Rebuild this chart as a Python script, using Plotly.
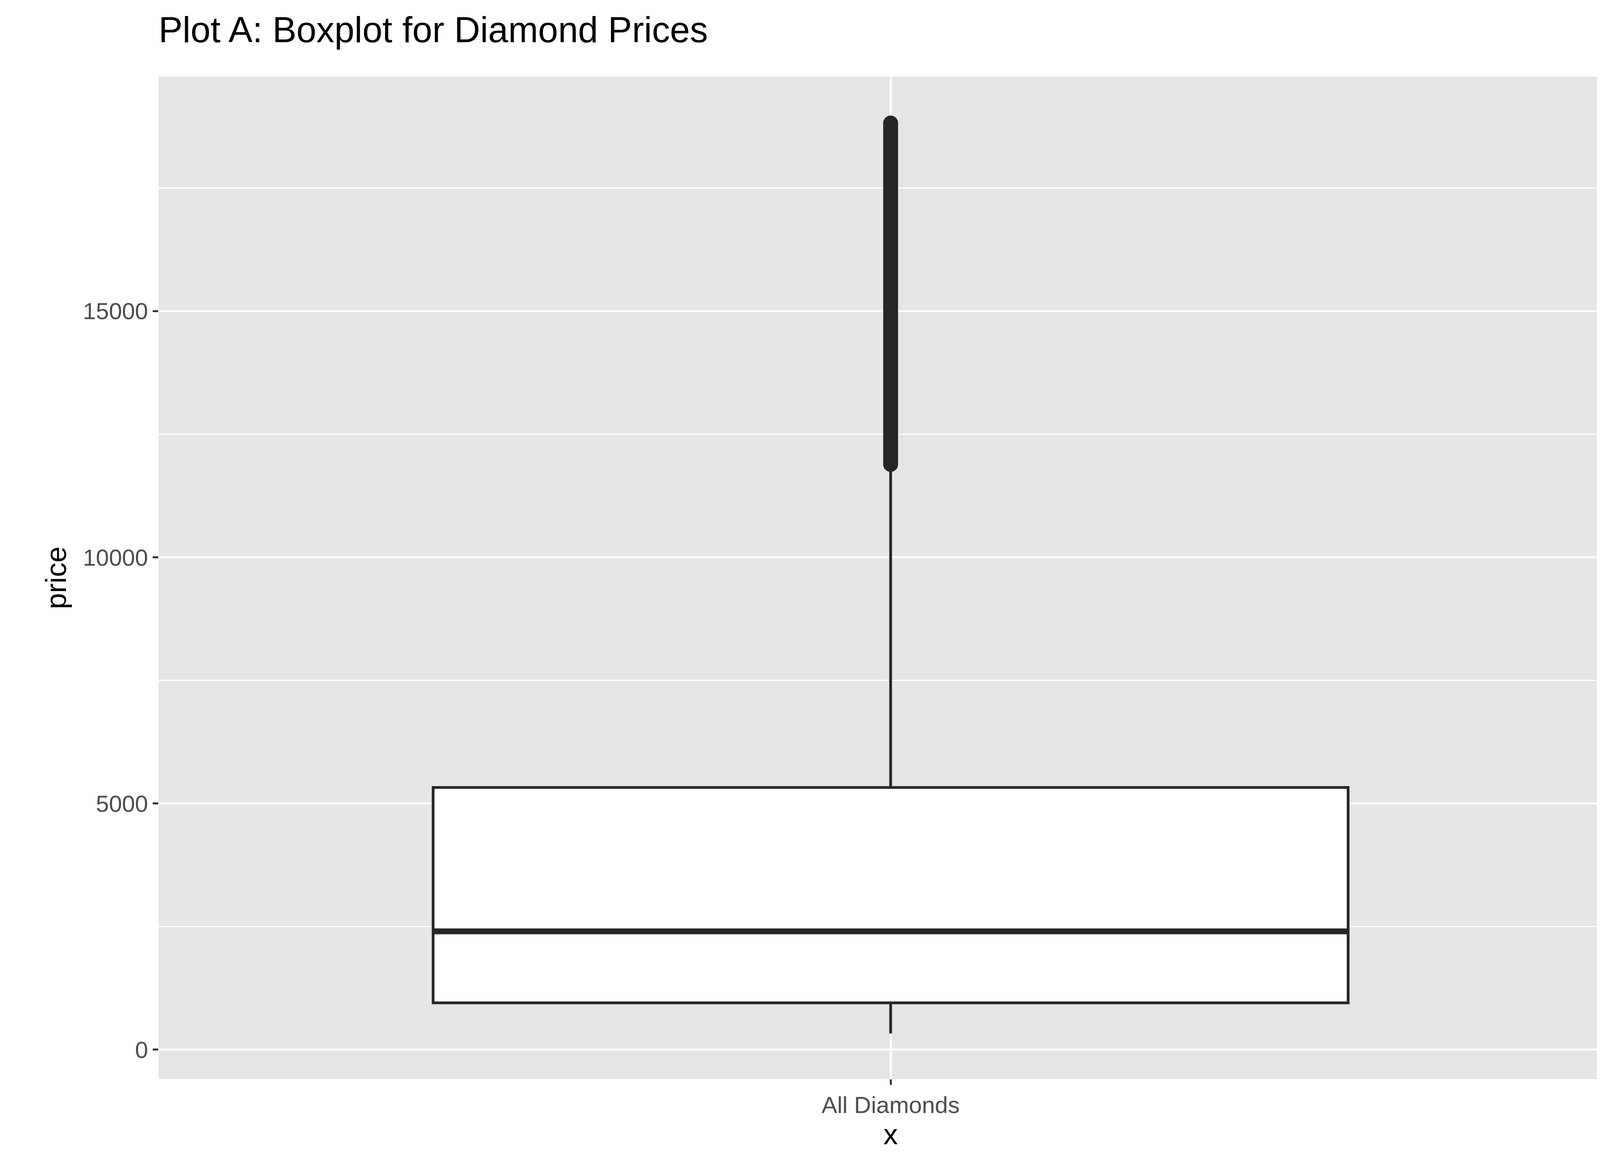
import plotly.graph_objects as go

# diamond price summary
category = ["All Diamonds"]
q1 = [950]
median = [2401]
q3 = [5324]
lower_whisker = [326]
upper_whisker = [11886]
outlier_min = 11886
outlier_max = 18823
y_ticks = [0, 5000, 10000, 15000]

box_w = 0.75
ink = "#262626"

fig = go.Figure()
fig.add_trace(go.Box(
    x=[0], q1=q1, median=median, q3=q3,
    lowerfence=lower_whisker, upperfence=upper_whisker,
    width=box_w, whiskerwidth=0, fillcolor="white",
    line=dict(color=ink, width=7), boxpoints=False, showlegend=False,
))
# thicker median bar like ggplot
fig.add_trace(go.Scatter(
    x=[-box_w / 2, box_w / 2], y=[median[0], median[0]], mode="lines",
    line=dict(color=ink, width=15), showlegend=False,
))
# outliers are so dense they form a solid column
fig.add_trace(go.Scatter(
    x=[0, 0], y=[outlier_min, outlier_max], mode="lines+markers",
    line=dict(color=ink, width=38), marker=dict(color=ink, size=38),
    showlegend=False,
))

fig.update_layout(
    width=4200, height=3000,
    margin=dict(l=398, r=54, t=188, b=246),
    paper_bgcolor="white", plot_bgcolor="#e5e5e5",
    font=dict(family="Liberation Sans", color="black"),
    title=dict(text="Plot A: Boxplot for Diamond Prices", x=398 / 4200, xanchor="left",
               y=0.988, yanchor="top", font=dict(size=92)),
)
fig.update_xaxes(
    range=[-0.6, 0.6], tickvals=[0], ticktext=category,
    showgrid=True, gridcolor="white", gridwidth=5, zeroline=False,
    ticks="outside", ticklen=14, tickwidth=5, tickcolor="#333333",
    tickfont=dict(size=60, color="#4d4d4d"),
    title=dict(text="x", font=dict(size=74), standoff=12),
)
fig.update_yaxes(
    range=[-598, 19765], tickvals=y_ticks, ticktext=[str(v) for v in y_ticks],
    showgrid=True, gridcolor="white", gridwidth=5, zeroline=False,
    minor=dict(dtick=2500, tick0=0, showgrid=True, gridcolor="white", gridwidth=2.5),
    ticks="outside", ticklen=14, tickwidth=5, tickcolor="#333333",
    tickfont=dict(size=60, color="#4d4d4d"),
    title=dict(text="price", font=dict(size=74), standoff=18),
)

fig.write_html("out.html")
